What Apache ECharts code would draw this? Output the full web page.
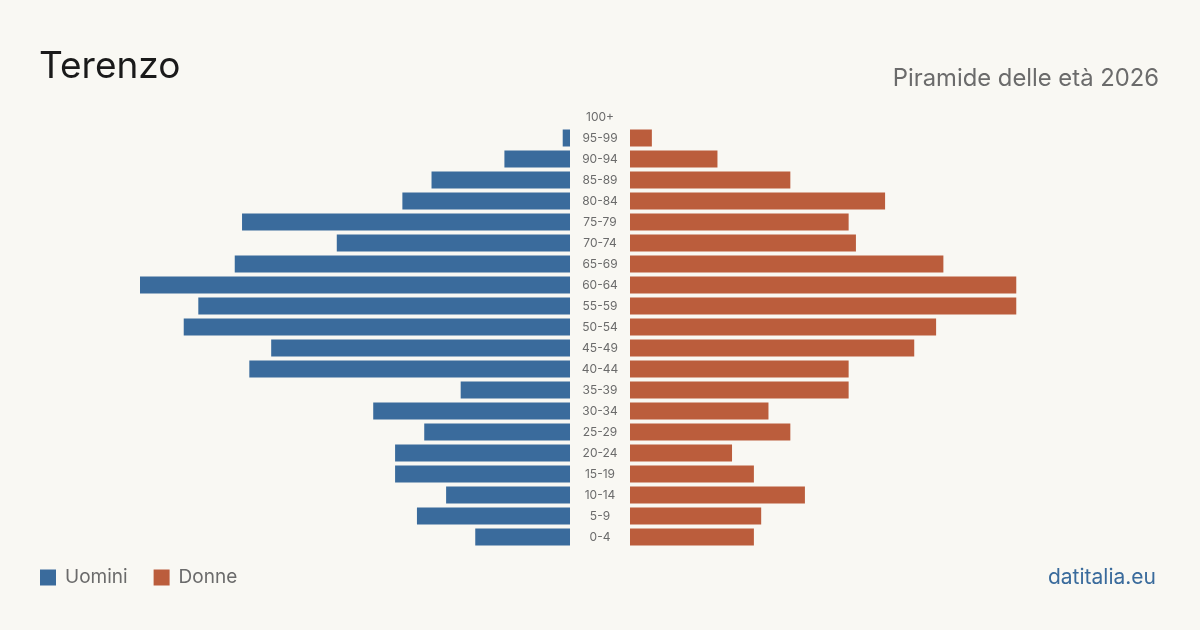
<!DOCTYPE html>
<html><head><meta charset="utf-8">
<script src="https://cdn.jsdelivr.net/npm/echarts@6/dist/echarts.min.js"></script>
<style>html,body{margin:0;padding:0;background:#f9f8f3}#c{width:1200px;height:630px}</style>
</head><body><div id="c"></div>
<script>
const categories = ['0-4','5-9','10-14','15-19','20-24','25-29','30-34','35-39','40-44','45-49','50-54','55-59','60-64','65-69','70-74','75-79','80-84','85-89','90-94','95-99','100+'];
const uomini = [13,21,17,24,24,20,27,15,44,41,53,51,59,46,32,45,23,19,9,1,0];
const donne  = [17,18,24,17,14,22,19,30,30,39,42,53,53,43,31,30,35,22,12,3,0];
const maxVal = Math.max(...uomini, ...donne);
const FONT = 'Inter, "Noto Sans", sans-serif';
const chart = echarts.init(document.getElementById('c'));
chart.setOption({
  backgroundColor: '#f9f8f3',
  animation: false,
  title: [
    {text: 'Terenzo', left: 34, top: 43, textStyle: {fontFamily: FONT, fontSize: 37, fontWeight: 'normal', color: '#1a1a1a'}},
    {text: 'Piramide delle età 2026', right: 36, top: 62, textStyle: {fontFamily: FONT, fontSize: 23.8, fontWeight: 'normal', color: '#6b6b6b'}},
    {text: 'datitalia.eu', right: 39, top: 562, textStyle: {fontFamily: FONT, fontSize: 21, fontWeight: 'normal', color: '#3a6b9c'}}
  ],
  legend: {
    left: 40, top: 568, padding: 0, itemWidth: 16, itemHeight: 16, itemGap: 26, icon: 'rect',
    textStyle: {fontFamily: FONT, fontSize: 19, color: '#6b6b6b', padding: [0, 0, 0, 4]},
    data: ['Uomini', 'Donne']
  },
  grid: [
    {left: 140, width: 430, top: 106.5, height: 441},
    {left: 630, width: 430, top: 106.5, height: 441}
  ],
  xAxis: [
    {gridIndex: 0, type: 'value', min: 0, max: maxVal, inverse: true, show: false},
    {gridIndex: 1, type: 'value', min: 0, max: maxVal, show: false}
  ],
  yAxis: [
    {gridIndex: 0, type: 'category', data: categories, position: 'right',
     axisLine: {show: false}, axisTick: {show: false},
     axisLabel: {margin: 30, align: 'center', fontFamily: FONT, fontSize: 12, color: '#6b6b6b'}},
    {gridIndex: 1, type: 'category', data: categories, show: false}
  ],
  series: [
    {name: 'Uomini', type: 'bar', xAxisIndex: 0, yAxisIndex: 0, data: uomini, barWidth: 17, itemStyle: {color: '#3a6b9c'}},
    {name: 'Donne', type: 'bar', xAxisIndex: 1, yAxisIndex: 1, data: donne, barWidth: 17, itemStyle: {color: '#bb5d3c'}}
  ]
});
</script></body></html>
